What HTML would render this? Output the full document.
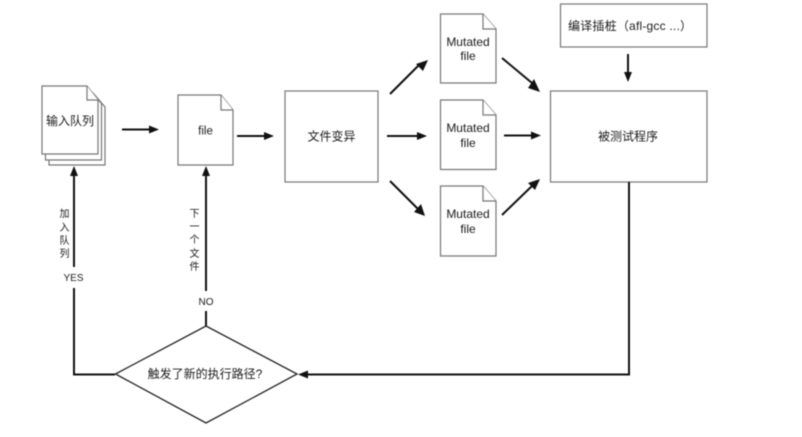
<!DOCTYPE html>
<html><head><meta charset="utf-8">
<style>
html,body{margin:0;padding:0;background:#fff;width:802px;height:437px;overflow:hidden}
svg{display:block;filter:blur(0.4px)}
text{font-family:"Liberation Sans","Noto Sans CJK SC",sans-serif;fill:#1a1a1a;text-anchor:middle}
.b{fill:#fff;stroke:#777;stroke-width:1.2}
.l{stroke:#111;stroke-width:2;fill:none}
.h{fill:#111;stroke:none}
</style></head><body>
<svg width="802" height="437" viewBox="0 0 802 437" xmlns="http://www.w3.org/2000/svg">
<!-- input queue -->
<path class="b" d="M49 93H93L105 107V165H49Z"/>
<path class="b" d="M45.500 89.500H89.500L101.500 103.500V160H45.500Z"/>
<path class="b" d="M42 86H87L98 100V154H42Z"/>
<path class="b" d="M87 86V100H98"/>
<text x="70" y="125" font-size="12">输入队列</text>
<!-- file -->
<path class="b" d="M178 95H221L233 110V165H178Z"/>
<path class="b" d="M221 95V110H233"/>
<text x="205.500" y="134.500" font-size="11.500">file</text>
<!-- boxes -->
<rect class="b" x="285" y="91" width="93" height="91"/>
<text x="331.500" y="140.500" font-size="12">文件变异</text>
<rect class="b" x="560.500" y="4" width="146.500" height="43"/>
<text x="630" y="30" font-size="12" textLength="124" lengthAdjust="spacing">编译插桩（afl-gcc ...）</text>
<rect class="b" x="550.500" y="91" width="156.500" height="91"/>
<text x="628" y="140.500" font-size="12">被测试程序</text>
<!-- mutated -->
<path class="b" d="M440.500 14H483L496 29V83H440.500Z"/><path class="b" d="M483 14V29H496"/>
<text x="468" y="46" font-size="12">Mutated</text><text x="468" y="60" font-size="12">file</text>
<path class="b" d="M440.500 100H483L496 115V169.500H440.500Z"/><path class="b" d="M483 100V115H496"/>
<text x="468" y="132" font-size="12">Mutated</text><text x="468" y="147" font-size="12">file</text>
<path class="b" d="M440.500 186H483L496 201V256H440.500Z"/><path class="b" d="M483 186V201H496"/>
<text x="468" y="218" font-size="12">Mutated</text><text x="468" y="233" font-size="12">file</text>
<!-- diamond -->
<path d="M115.500 374L206 326L297 374L206 423Z" fill="#fff" stroke="#222" stroke-width="1.300"/>
<text x="205" y="378" font-size="12">触发了新的执行路径?</text>
<!-- connectors -->
<path class="l" d="M122 129.500H150"/><path class="h" d="M159 129.500L149 125.500V133.500Z"/>
<path class="l" d="M237 136H265"/><path class="h" d="M274 136L264 132V140Z"/>
<path class="l" d="M387 136H417"/><path class="h" d="M427 136L417 132V140Z"/>
<path class="l" d="M390 94L420 64"/><path class="h" d="M428 60L423 71L416 64Z"/>
<path class="l" d="M390 181L420 211"/><path class="h" d="M425 216L414 212L421 204Z"/>
<path class="l" d="M502 58L532 83"/><path class="h" d="M540 92L528 88L534 79Z"/>
<path class="l" d="M504 135.500H532"/><path class="h" d="M541 135.500L531 131.500V139.500Z"/>
<path class="l" d="M502 215L532 186"/><path class="h" d="M540 179L535 190L528 183Z"/>
<path class="l" d="M628 54V74"/><path class="h" d="M628 82L624 72H632Z"/>
<path class="l" d="M629 182V374.500H306"/><path class="h" d="M298 374.500L308 370.500V378.500Z"/>
<path class="l" d="M206 326V311M206 291V176"/><path class="h" d="M206 166L202 176H210Z"/>
<path class="l" d="M115 374.500H74V288M74 267V176"/><path class="h" d="M74 166L70 176H78Z"/>
<!-- labels -->
<text x="64.500" y="217" font-size="10">加</text>
<text x="64.500" y="231" font-size="10">入</text>
<text x="64.500" y="244" font-size="10">队</text>
<text x="64.500" y="257" font-size="10">列</text>
<text x="73.500" y="281" font-size="10">YES</text>
<text x="194.500" y="217" font-size="10">下</text>
<text x="194.500" y="230" font-size="10">一</text>
<text x="194.500" y="243" font-size="10">个</text>
<text x="194.500" y="257" font-size="10">文</text>
<text x="194.500" y="270" font-size="10">件</text>
<text x="206" y="305" font-size="10">NO</text>
</svg>
</body></html>
